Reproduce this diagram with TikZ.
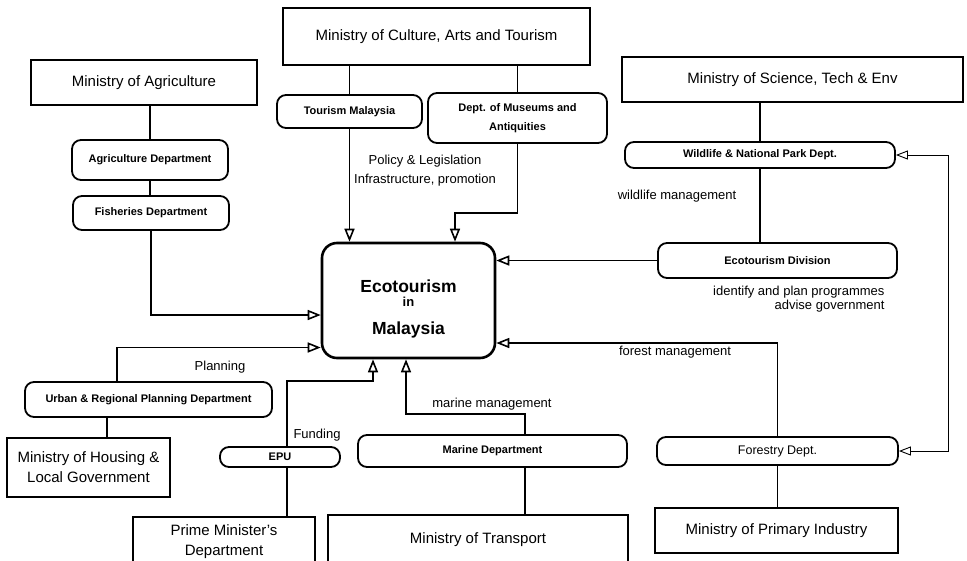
\documentclass[tikz,border=0pt]{standalone}
\usepackage{fontspec}
\setmainfont{Liberation Sans}
\usetikzlibrary{arrows.meta}

\begin{document}
\begin{tikzpicture}[
  x=1pt, y=-1pt,
  ministry/.style={rectangle, draw, line width=2.4pt, inner sep=0pt, align=center, font=\fontsize{15}{20}\selectfont},
  dept/.style={rectangle, draw, line width=1.8pt, rounded corners=9pt, inner sep=0pt, align=center, font=\fontsize{11}{14}\selectfont\bfseries},
  hub/.style={rectangle, draw, line width=2.6pt, rounded corners=15pt, align=center, font=\fontsize{17.5}{20}\selectfont\bfseries},
  link/.style={line width=1.6pt},
  arrow/.style={link, -{Triangle[open, length=13pt, width=10pt]}},
  both/.style={line width=0.9pt, {Triangle[open, length=12pt, width=9pt]}-{Triangle[open, length=12pt, width=9pt]}},
  note/.style={align=center, font=\fontsize{13}{19}\selectfont}
]
  \useasboundingbox (0,0) rectangle (967,560);

  % centre
  \node[hub, minimum width=173pt, minimum height=115pt] (hub) at (408.5,300.5)
    {\mbox{}\\[9pt]Ecotourism\\[-6pt]{\fontsize{13}{10}\selectfont in}\\[8pt]Malaysia};

  % ministries
  \node[ministry, minimum width=307pt, minimum height=57pt] (mcat) at (436.5,36.5) {Ministry of Culture, Arts and Tourism};
  \node[ministry, minimum width=226pt, minimum height=45pt] (magr) at (144,82.5) {Ministry of Agriculture};
  \node[ministry, minimum width=341pt, minimum height=45pt] (mste) at (792.5,79.5) {Ministry of Science, Tech \& Env};
  \node[ministry, minimum width=163pt, minimum height=59pt] (mhlg) at (88.5,467.5) {Ministry of Housing \&\\Local Government};
  \node[ministry, minimum width=182pt, minimum height=50pt] (pmd) at (224,542) {Prime Minister's\\Department};
  \node[ministry, minimum width=300pt, minimum height=50pt] (mot) at (478,540) {Ministry of Transport};
  \node[ministry, minimum width=243pt, minimum height=45pt] (mpi) at (776.5,530.5) {Ministry of Primary Industry};

  % departments
  \node[dept, minimum width=145pt, minimum height=33pt] (tm) at (349.5,111.5) {Tourism Malaysia};
  \node[dept, minimum width=179pt, minimum height=50pt, font=\fontsize{11}{19}\selectfont\bfseries] (dma) at (517.5,118) {Dept. of Museums and\\Antiquities};
  \node[dept, minimum width=156pt, minimum height=40pt] (agd) at (150,160) {Agriculture Department};
  \node[dept, minimum width=156pt, minimum height=34pt] (fid) at (151,213) {Fisheries Department};
  \node[dept, minimum width=270pt, minimum height=26pt] (wnp) at (760,155) {Wildlife \& National Park Dept.};
  \node[dept, minimum width=239pt, minimum height=35pt] (eco) at (777.5,260.5) {Ecotourism Division};
  \node[dept, minimum width=247pt, minimum height=35pt] (urp) at (148.5,399.5) {Urban \& Regional Planning Department};
  \node[dept, minimum width=120pt, minimum height=20pt] (epu) at (280,457) {EPU};
  \node[dept, minimum width=269pt, minimum height=32pt] (mard) at (492.5,451) {Marine Department};
  \node[dept, minimum width=241pt, minimum height=28pt, font=\fontsize{12.5}{15}\selectfont] (fod) at (777.5,451) {Forestry Dept.};

  % labels
  \node[note] (policy) at (425,171) {Policy \& Legislation\\Infrastructure, promotion};
  \node[note] (wild) at (677,196) {wildlife management};
  \node[note, align=right, anchor=north east] (ident) at (888,283) {identify and plan programmes\\[-5pt]advise government};
  \node[note] (forest) at (675,352) {forest management};
  \node[note] (marine) at (492,404) {marine management};
  \node[note] (plan) at (220,367) {Planning};
  \node[note] (fund) at (317,435) {Funding};

  % connectors
  \draw[link] (tm.north) -- (tm.north |- mcat.south);
  \draw[link] (dma.north) -- (dma.north |- mcat.south);
  \draw[arrow] (tm.south) -- (tm.south |- hub.north);
  \draw[arrow] (dma.south) -- ++(0,69) -| ([xshift=46.5pt]hub.north);

  \draw[link] (agd.north) -- (agd.north |- magr.south);
  \draw[link] (agd.south) -- (agd.south |- fid.north);
  \draw[arrow] (fid.south) |- ([yshift=-14.5pt]hub.west);

  \draw[link] (wnp.north) -- (wnp.north |- mste.south);
  \draw[link] (wnp.south) -- (wnp.south |- eco.north);
  \draw[arrow] (eco.west) -- (eco.west -| hub.east);
  \draw[arrow] (fod.north) |- ([yshift=-42.5pt]hub.east);
  \draw[link] (fod.south) -- (fod.south |- mpi.north);
  \draw[both] (fod.east) -- ++(50,0) |- (wnp.east);

  \draw[arrow] ([xshift=-31.5pt]urp.north) |- ([yshift=-47pt]hub.west);
  \draw[link] ([xshift=-41.5pt]urp.south) -- ([xshift=-41.5pt]urp.south |- mhlg.north);
  \draw[arrow] ([xshift=7pt]epu.north) -- ++(0,-65) -| ([xshift=-35.5pt]hub.south);
  \draw[link] ([xshift=7pt]epu.south) -- ([xshift=7pt]epu.south |- pmd.north);
  \draw[arrow] ([xshift=32.5pt]mard.north) -- ++(0,-20) -| ([xshift=-2.5pt]hub.south);
  \draw[link] ([xshift=32.5pt]mard.south) -- ([xshift=32.5pt]mard.south |- mot.north);
\end{tikzpicture}
\end{document}
